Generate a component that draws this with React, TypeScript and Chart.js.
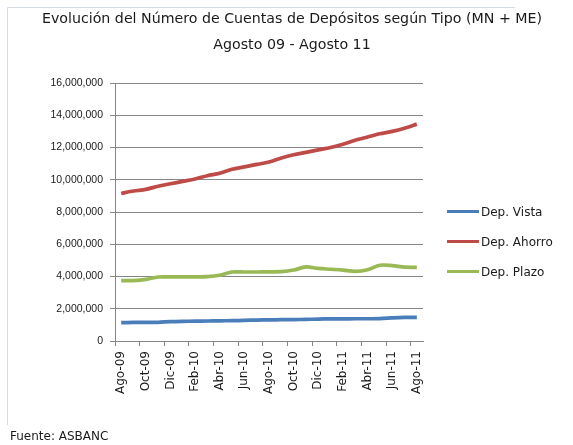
import React, { useEffect, useRef } from "react";
import { Chart, registerables } from "chart.js";

Chart.register(...registerables);

const months = [
  "Ago-09", "Sep-09", "Oct-09", "Nov-09", "Dic-09", "Ene-10", "Feb-10", "Mar-10", "Abr-10",
  "May-10", "Jun-10", "Jul-10", "Ago-10", "Sep-10", "Oct-10", "Nov-10", "Dic-10", "Ene-11",
  "Feb-11", "Mar-11", "Abr-11", "May-11", "Jun-11", "Jul-11", "Ago-11",
];

const depVista = [
  1140000, 1150000, 1150000, 1160000, 1200000, 1220000, 1230000, 1240000, 1250000,
  1260000, 1280000, 1300000, 1310000, 1320000, 1330000, 1340000, 1360000, 1370000,
  1370000, 1380000, 1380000, 1390000, 1430000, 1460000, 1470000,
];

const depAhorro = [
  9150000, 9300000, 9400000, 9600000, 9750000, 9900000, 10050000, 10250000, 10400000,
  10650000, 10800000, 10950000, 11100000, 11350000, 11550000, 11700000, 11850000, 12000000,
  12200000, 12450000, 12650000, 12850000, 13000000, 13200000, 13450000,
];

const depPlazo = [
  3740000, 3750000, 3820000, 3970000, 3980000, 3980000, 3980000, 3990000, 4080000,
  4280000, 4280000, 4280000, 4290000, 4300000, 4400000, 4600000, 4500000, 4450000,
  4400000, 4320000, 4420000, 4700000, 4680000, 4580000, 4570000,
];

const seriesNames = ["Dep. Vista", "Dep. Ahorro", "Dep. Plazo"];
const seriesColors = ["#4a7ebb", "#be4b48", "#98b954"];

const yMin = 0;
const yMax = 16000000;
const yStep = 2000000;

const titleLines = [
  "Evolución del Número de Cuentas de Depósitos según Tipo (MN + ME)",
  "Agosto 09 - Agosto 11",
];
const sourceText = "Fuente: ASBANC";

export default function App() {
  const ref = useRef<HTMLCanvasElement>(null);

  useEffect(() => {
    const canvas = ref.current;
    if (!canvas) return;

    const overlay = {
      id: "overlay",
      afterDraw(chart: any) {
        const ctx = chart.ctx as CanvasRenderingContext2D;
        ctx.save();
        // faint frame
        ctx.strokeStyle = "#d5dbe4";
        ctx.lineWidth = 1;
        ctx.beginPath();
        ctx.moveTo(7.5, 7.5);
        ctx.lineTo(7.5, 425);
        ctx.moveTo(7.5, 7.5);
        ctx.lineTo(515, 7.5);
        ctx.stroke();

        // title
        ctx.fillStyle = "#1a1a1a";
        ctx.font = "14.2px 'DejaVu Sans'";
        ctx.textAlign = "center";
        ctx.textBaseline = "middle";
        ctx.fillText(titleLines[0], 292, 19);
        ctx.fillText(titleLines[1], 292, 45);

        // legend
        ctx.font = "12px 'DejaVu Sans'";
        ctx.textAlign = "left";
        chart.data.datasets.forEach((ds: any, i: number) => {
          const y = 211.5 + i * 30;
          ctx.strokeStyle = ds.borderColor;
          ctx.lineWidth = 3;
          ctx.beginPath();
          ctx.moveTo(447, y);
          ctx.lineTo(479, y);
          ctx.stroke();
          ctx.fillStyle = "#1a1a1a";
          ctx.fillText(ds.label, 481, y + 1);
        });

        // source
        ctx.font = "12px 'DejaVu Sans'";
        ctx.fillText(sourceText, 10, 437);
        ctx.restore();
      },
    };

    const seriesData = [depVista, depAhorro, depPlazo];

    const chart = new Chart(canvas, {
      type: "line",
      data: {
        labels: months,
        datasets: seriesNames.map((name, i) => ({
          label: name,
          data: seriesData[i],
          borderColor: seriesColors[i],
          backgroundColor: seriesColors[i],
          borderWidth: 3.7,
          pointRadius: 0,
          tension: 0.3,
          fill: false,
        })),
      },
      options: {
        responsive: false,
        animation: false,
        devicePixelRatio: 1,
        layout: { padding: { top: 83, right: 150, bottom: 0, left: 0 } },
        plugins: {
          legend: { display: false },
          title: { display: false },
          tooltip: { enabled: false },
        },
        scales: {
          x: {
            type: "category",
            offset: true,
            afterFit: (s: any) => {
              s.height = 104;
            },
            border: { display: true, color: "#868686", width: 1 },
            grid: {
              display: true,
              offset: true,
              drawOnChartArea: false,
              drawTicks: true,
              tickLength: 5,
              color: (c: any) => (c.index % 2 === 0 ? "#868686" : "rgba(0,0,0,0)"),
            },
            ticks: {
              autoSkip: false,
              maxRotation: 90,
              minRotation: 90,
              padding: 5,
              color: "#1a1a1a",
              font: { family: "'DejaVu Sans'", size: 12 },
              callback: (_v: any, idx: number) => (idx % 2 === 0 ? months[idx] : ""),
            },
          },
          y: {
            min: yMin,
            max: yMax,
            afterFit: (s: any) => {
              s.width = 115;
            },
            border: { display: true, color: "#868686", width: 1 },
            grid: {
              color: "#868686",
              lineWidth: 1,
              drawTicks: true,
              tickLength: 5,
            },
            ticks: {
              stepSize: yStep,
              padding: 7,
              color: "#1a1a1a",
              font: { family: "'Liberation Sans'", size: 10.5 },
              callback: (v: any) => Number(v).toLocaleString("en-US"),
            },
          },
        },
      },
      plugins: [overlay],
    });

    return () => chart.destroy();
  }, []);

  return (
    <div style={{ position: "fixed", left: 0, top: 0, width: 573, height: 445, background: "#fff" }}>
      <canvas ref={ref} width={573} height={445} style={{ display: "block", width: 573, height: 445 }} />
    </div>
  );
}
